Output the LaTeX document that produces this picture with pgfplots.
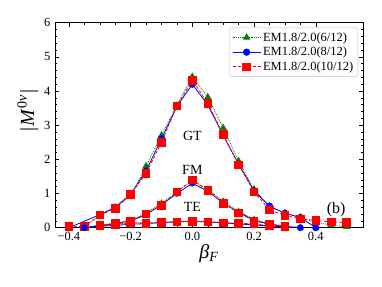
\documentclass[border=0pt]{standalone}
\usepackage{pgfplots}
\pgfplotsset{compat=1.18}
\usepackage{fontspec}
\setmainfont{Liberation Serif}
\definecolor{mgreen}{RGB}{0,128,0}
\begin{document}
\begin{tikzpicture}
\begin{axis}[
  scale only axis, width=308pt, height=205pt,
  xmin=-0.445, xmax=0.553, ymin=0, ymax=6,
  xtick={-0.4,-0.2,0,0.2,0.4},
  xticklabels={−0.4,−0.2,0.0,0.2,0.4},
  ytick={0,1,2,3,4,5,6},
  yticklabels={0,1,2,3,4,5,6},
  minor x tick num=3, minor y tick num=4,
  tick align=inside, tick pos=both,
  major tick length=4pt, minor tick length=2pt,
  tick style={black, line width=0.5pt},
  ticklabel style={font=\fontsize{12.5}{14}\selectfont},
  xticklabel style={yshift=-1pt},
  yticklabel style={xshift=-1pt},
  xlabel={\textit{β}\textsubscript{\fontsize{14}{14}\selectfont\textit{F}}},
  ylabel={|\kern1pt\textit{M}\kern1pt\textsuperscript{\fontsize{14}{14}\selectfont 0\textit{ν}}\kern1pt|},
  label style={font=\fontsize{20}{22}\selectfont},
  xlabel style={yshift=3pt},
  ylabel style={at={(ticklabel cs:0.57)}, yshift=-1pt},
  axis line style={black, line width=0.6pt},
  clip=false,
  legend style={at={(1,1)}, xshift=-5pt, yshift=-5pt, anchor=north east,
    draw=gray!50, rounded corners=2pt, font=\fontsize{12.5}{14}\selectfont,
    row sep=0.5pt, inner sep=2.5pt},
  legend cell align=left,
  legend image code/.code={\draw[mark repeat=2,mark phase=2] plot coordinates {(0pt,0pt)(14pt,0pt)(28pt,0pt)};},
]
% green GT
\addplot[color=mgreen, densely dotted, line width=0.8pt, mark=triangle*, mark size=3.5pt, mark options={solid,fill=mgreen}, legend image post style={draw=mgreen}] coordinates {
(-0.4,0.02)(-0.35,0.03)(-0.3,0.35)(-0.25,0.58)(-0.2,0.92)(-0.15,1.8)(-0.1,2.7)(-0.05,3.58)(0,4.42)(0.05,3.82)(0.1,2.92)(0.15,1.95)(0.2,1.12)(0.25,0.62)(0.3,0.43)(0.35,0.3)(0.4,0.15)(0.45,0.08)(0.5,0.03)};
\addlegendentry{EM1.8/2.0(6/12)}
% blue GT
\addplot[color=blue, solid, line width=0.8pt, mark=*, mark size=3.2pt, mark options={fill=blue}, legend image post style={draw=blue}] coordinates {
(-0.4,0.0)(-0.3,0.38)(-0.25,0.6)(-0.2,0.98)(-0.15,1.66)(-0.1,2.6)(-0.05,3.55)(0,4.2)(0.05,3.6)(0.1,2.7)(0.15,1.86)(0.2,1.08)(0.25,0.63)(0.3,0.42)(0.35,0.3)(0.4,0.0)};
\addlegendentry{EM1.8/2.0(8/12)}
% red GT
\addplot[color=red, densely dashed, line width=0.8pt, mark=square*, mark size=3.8pt, mark options={solid,fill=red}, legend image post style={draw=red}] coordinates {
(-0.4,0.04)(-0.35,0.04)(-0.3,0.37)(-0.25,0.57)(-0.2,0.97)(-0.15,1.59)(-0.1,2.5)(-0.05,3.56)(0,4.32)(0.05,3.64)(0.1,2.73)(0.15,1.84)(0.2,1.05)(0.25,0.52)(0.3,0.36)(0.35,0.26)(0.4,0.21)(0.45,0.17)(0.5,0.15)};
\addlegendentry{EM1.8/2.0(10/12)}
% FM
\addplot[color=mgreen, densely dotted, line width=0.8pt, mark=triangle*, mark size=3pt, mark options={solid,fill=mgreen}, forget plot] coordinates {
(-0.35,0.01)(-0.3,0.08)(-0.25,0.13)(-0.2,0.22)(-0.15,0.42)(-0.1,0.72)(-0.05,1.05)(0,1.36)(0.05,1.12)(0.1,0.78)(0.15,0.48)(0.2,0.24)(0.25,0.12)(0.3,0.05)(0.35,0.01)};
\addplot[color=blue, solid, line width=0.8pt, mark=*, mark size=2.8pt, mark options={fill=blue}, forget plot] coordinates {
(-0.35,0.0)(-0.3,0.05)(-0.25,0.12)(-0.2,0.2)(-0.15,0.38)(-0.1,0.67)(-0.05,1.0)(0,1.3)(0.05,1.07)(0.1,0.72)(0.15,0.45)(0.2,0.22)(0.25,0.1)(0.3,0.03)(0.35,0.0)};
\addplot[color=red, densely dashed, line width=0.8pt, mark=square*, mark size=3.8pt, mark options={solid,fill=red}, forget plot] coordinates {
(-0.3,0.08)(-0.25,0.12)(-0.2,0.2)(-0.15,0.4)(-0.1,0.66)(-0.05,1.05)(0,1.4)(0.05,1.1)(0.1,0.72)(0.15,0.43)(0.2,0.2)(0.25,0.1)(0.3,0.05)};
% TE
\addplot[color=mgreen, densely dotted, line width=0.8pt, mark=triangle*, mark size=3pt, mark options={solid,fill=mgreen}, forget plot] coordinates {
(-0.35,0.01)(-0.3,0.06)(-0.25,0.1)(-0.2,0.14)(-0.15,0.15)(-0.1,0.17)(-0.05,0.18)(0,0.2)(0.05,0.18)(0.1,0.16)(0.15,0.13)(0.2,0.1)(0.25,0.06)(0.3,0.03)(0.35,0.01)};
\addplot[color=blue, solid, line width=0.8pt, mark=*, mark size=2.8pt, mark options={fill=blue}, forget plot] coordinates {
(-0.35,0.0)(-0.3,0.04)(-0.25,0.07)(-0.2,0.1)(-0.15,0.12)(-0.1,0.15)(-0.05,0.17)(0,0.18)(0.05,0.17)(0.1,0.14)(0.15,0.11)(0.2,0.08)(0.25,0.05)(0.3,0.02)(0.35,0.0)};
\addplot[color=red, densely dashed, line width=0.8pt, mark=square*, mark size=3.8pt, mark options={solid,fill=red}, forget plot] coordinates {
(-0.3,0.06)(-0.25,0.1)(-0.2,0.14)(-0.15,0.13)(-0.1,0.15)(-0.05,0.17)(0,0.19)(0.05,0.17)(0.1,0.14)(0.15,0.12)(0.2,0.12)(0.25,0.05)(0.3,0.02)};
\node[font=\fontsize{14}{16}\selectfont] at (axis cs:0,2.68) {GT};
\node[font=\fontsize{14}{16}\selectfont] at (axis cs:0,1.68) {FM};
\node[font=\fontsize{14}{16}\selectfont] at (axis cs:0,0.6) {TE};
\node[font=\fontsize{16}{18}\selectfont] at (axis cs:0.466,0.52) {(b)};
\end{axis}
\pgfresetboundingbox
\useasboundingbox (-55pt,-58.3pt) rectangle (327pt,227.7pt);
\end{tikzpicture}
\end{document}
